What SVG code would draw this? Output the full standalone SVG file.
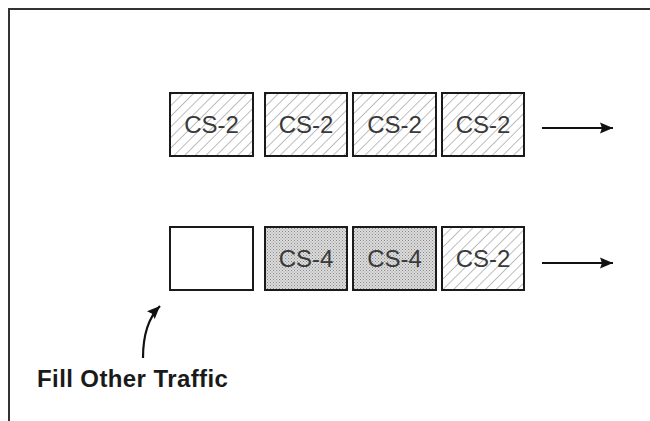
<svg xmlns="http://www.w3.org/2000/svg" width="650" height="421" viewBox="0 0 650 421">
  <defs>
    <!-- diagonal hatch for CS-2 slots -->
    <pattern id="hatch" width="7.5" height="10" patternUnits="userSpaceOnUse" patternTransform="rotate(45)">
      <rect width="7.5" height="10" fill="#ffffff"/>
      <line x1="0" y1="0" x2="0" y2="10" stroke="#9a9a9a" stroke-width="1.3"/>
    </pattern>
    <!-- fine stipple for CS-4 slots -->
    <pattern id="stipple" width="3" height="3" patternUnits="userSpaceOnUse">
      <rect width="3" height="3" fill="#dcdcdc"/>
      <rect x="0" y="0" width="1" height="1" fill="#8a8a8a"/>
      <rect x="1.5" y="1.5" width="1" height="1" fill="#9a9a9a"/>
    </pattern>
    <marker id="arrow" markerWidth="14" markerHeight="12" refX="13" refY="6" orient="auto" markerUnits="userSpaceOnUse">
      <path d="M0,0.5 L13,6 L0,11.5 L2,6 Z" fill="#111"/>
    </marker>
  </defs>
  <style>
    .slot { stroke: #1a1a1a; stroke-width: 2; }
    .cs2 { fill: url(#hatch); }
    .cs4 { fill: url(#stipple); }
    .empty { fill: #ffffff; }
    .lbl { font-family: "Liberation Sans", Arial, sans-serif; font-size: 24px; fill: #3a3a3a; text-anchor: middle; }
    .note { font-family: "Liberation Sans", Arial, sans-serif; font-size: 24px; font-weight: bold; letter-spacing: 0.4px; fill: #1a1a1a; }
    .conn { stroke: #111; stroke-width: 2.2; fill: none; }
  </style>

  <rect width="650" height="421" fill="#ffffff"/>
  <!-- frame (top and left edges) -->
  <path d="M9,421 V9 H650" fill="none" stroke="#333" stroke-width="2"/>

  <!-- upper queue -->
  <g id="q1-s1"><rect class="slot cs2" x="170" y="93" width="83" height="63"/><text class="lbl" x="211.5" y="133">CS-2</text></g>
  <g id="q1-s2"><rect class="slot cs2" x="265" y="93" width="82" height="63"/><text class="lbl" x="306" y="133">CS-2</text></g>
  <g id="q1-s3"><rect class="slot cs2" x="353" y="93" width="83" height="63"/><text class="lbl" x="394.5" y="133">CS-2</text></g>
  <g id="q1-s4"><rect class="slot cs2" x="442" y="93" width="82" height="63"/><text class="lbl" x="483" y="133">CS-2</text></g>

  <!-- lower queue -->
  <g id="q2-s1"><rect class="slot empty" x="170" y="227" width="83" height="63"/></g>
  <g id="q2-s2"><rect class="slot cs4" x="265" y="227" width="82" height="63"/><text class="lbl" x="306" y="267">CS-4</text></g>
  <g id="q2-s3"><rect class="slot cs4" x="353" y="227" width="83" height="63"/><text class="lbl" x="394.5" y="267">CS-4</text></g>
  <g id="q2-s4"><rect class="slot cs2" x="442" y="227" width="82" height="63"/><text class="lbl" x="483" y="267">CS-2</text></g>

  <g id="note"><text class="note" x="37" y="387">Fill Other Traffic</text></g>

  <g id="connectors">
    <line class="conn" x1="542" y1="128" x2="613" y2="128" marker-end="url(#arrow)"/>
    <line class="conn" x1="542" y1="263" x2="613" y2="263" marker-end="url(#arrow)"/>
    <path class="conn" d="M143,358 C143,335 148,318 160,306" marker-end="url(#arrow)"/>
  </g>
</svg>
